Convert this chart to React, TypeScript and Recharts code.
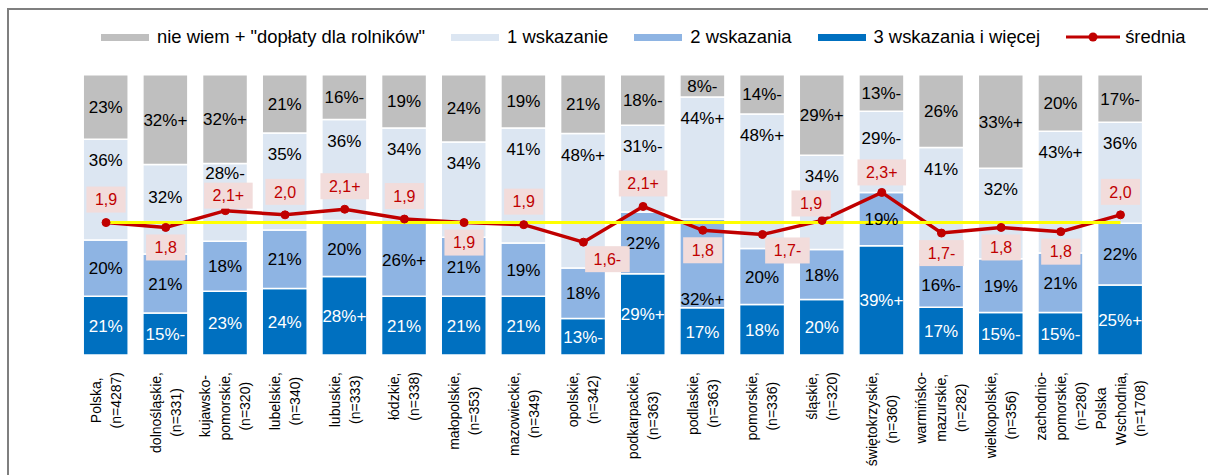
import React from 'react';
import { ComposedChart, Bar, Line, XAxis, YAxis, LabelList } from 'recharts';

const FONT = '"Liberation Sans", Arial, sans-serif';

const categories = [
  'Polska,\n(n=4287)',
  'dolnośląskie,\n(n=331)',
  'kujawsko-\npomorskie,\n(n=320)',
  'lubelskie,\n(n=340)',
  'lubuskie,\n(n=333)',
  'łódzkie,\n(n=338)',
  'małopolskie,\n(n=353)',
  'mazowieckie,\n(n=349)',
  'opolskie,\n(n=342)',
  'podkarpackie,\n(n=363)',
  'podlaskie,\n(n=363)',
  'pomorskie,\n(n=336)',
  'śląskie,\n(n=320)',
  'świętokrzyskie,\n(n=360)',
  'warmińsko-\nmazurskie,\n(n=282)',
  'wielkopolskie,\n(n=356)',
  'zachodnio-\npomorskie,\n(n=280)',
  'Polska\nWschodnia,\n(n=1708)',
];

const seriesNames = ['nie wiem + "dopłaty dla rolników"', '1 wskazanie', '2 wskazania', '3 wskazania i więcej', 'średnia'];

const threePlus = [21, 15, 23, 24, 28, 21, 21, 21, 13, 29, 17, 18, 20, 39, 17, 15, 15, 25];
const threePlusMarks = ['', '-', '', '', '+', '', '', '', '-', '+', '', '', '', '+', '', '-', '-', '+'];
const two = [20, 21, 18, 21, 20, 26, 21, 19, 18, 22, 32, 20, 18, 19, 16, 19, 21, 22];
const twoMarks = ['', '', '', '', '', '+', '', '', '', '', '+', '', '', '', '-', '', '', ''];
const one = [36, 32, 28, 35, 36, 34, 34, 41, 48, 31, 44, 48, 34, 29, 41, 32, 43, 36];
const oneMarks = ['', '', '-', '', '', '', '', '', '+', '-', '+', '+', '', '-', '', '', '+', ''];
const dontKnow = [23, 32, 32, 21, 16, 19, 24, 19, 21, 18, 8, 14, 29, 13, 26, 33, 20, 17];
const dontKnowMarks = ['', '+', '+', '', '-', '', '', '', '', '-', '-', '-', '+', '-', '', '+', '', '-'];
const average = [1.89, 1.82, 2.06, 2.0, 2.08, 1.94, 1.89, 1.86, 1.61, 2.12, 1.78, 1.72, 1.92, 2.32, 1.74, 1.82, 1.76, 2.0];
const averageMarks = ['', '', '+', '', '+', '', '', '', '-', '+', '', '-', '', '+', '-', '', '', ''];

const COLORS = {
  dontKnow: '#BFBFBF',
  one: '#DCE6F2',
  two: '#8EB4E3',
  three: '#0070C0',
  avg: '#C00000',
  base: '#FFFF00',
};

const data = categories.map((name, i) => {
  const sum = threePlus[i] + two[i] + one[i] + dontKnow[i];
  return {
    name,
    s3: (threePlus[i] / sum) * 100,
    s2: (two[i] / sum) * 100,
    s1: (one[i] / sum) * 100,
    s0: (dontKnow[i] / sum) * 100,
    avg: average[i],
    baseline: average[0],
  };
});

let measureCtx: CanvasRenderingContext2D | null = null;
const measure = (s: string, size: number) => {
  try {
    if (!measureCtx && typeof document !== 'undefined') {
      measureCtx = document.createElement('canvas').getContext('2d');
    }
    if (measureCtx) {
      measureCtx.font = `${size}px "Liberation Sans", Arial, sans-serif`;
      return measureCtx.measureText(s).width;
    }
  } catch (e) {
    /* ignore */
  }
  return s.length * size * 0.52;
};

type Placement = { fromTop?: number; fromBottom?: number };
const makeBarLabel = (
  values: number[],
  marks: string[],
  color: string,
  place: (i: number) => Placement | null
) => (props: any) => {
  const { x, y, width, height, index } = props;
  if (index == null || values[index] == null) return null;
  const p = place(index);
  let cy = Number(y) + Number(height) / 2;
  if (p && p.fromTop != null) cy = Number(y) + p.fromTop;
  if (p && p.fromBottom != null) cy = Number(y) + Number(height) - p.fromBottom;
  return (
    <text
      key={`bl-${index}`}
      x={Number(x) + Number(width) / 2}
      y={cy}
      dy="0.36em"
      textAnchor="middle"
      fill={color}
      fontSize={17}
      fontFamily={FONT}
    >
      {`${values[index]}%${marks[index]}`}
    </text>
  );
};

const oneLabelTop: Record<number, number> = { 1: 32, 2: 9, 13: 27 };
const placeOne = (i: number): Placement => ({ fromTop: oneLabelTop[i] ?? 21 });
const placeTwo = (i: number): Placement | null => (i === 10 ? { fromBottom: 9 } : null);
const placeCenter = () => null;

const belowLabels = new Set([1, 6, 8, 10, 11, 14, 15, 16]);
const labelNudge: Record<number, [number, number]> = {
  2: [3, -15],
  8: [24, 17],
  11: [25, 16],
  12: [-11, -17],
  13: [0, -20],
};

const renderAvgLabel = (props: any) => {
  const { x, y, index } = props;
  if (index == null) return null;
  const txt = average[index].toFixed(1).replace('.', ',') + averageMarks[index];
  const w = measure(txt, 16) + 17;
  const h = 26;
  const nudge = labelNudge[index];
  const dx = nudge ? nudge[0] : 0;
  const dy = nudge ? nudge[1] : belowLabels.has(index) ? 20 : -23;
  const cx = Number(x) + dx;
  const cy = Number(y) + dy;
  return (
    <g key={`al-${index}`}>
      <rect x={cx - w / 2} y={cy - h / 2} width={w} height={h} fill="#F2DCDB" />
      <text x={cx} y={cy} dy="0.36em" textAnchor="middle" fill={COLORS.avg} fontSize={16} fontFamily={FONT}>
        {txt}
      </text>
    </g>
  );
};

const renderTick = (props: any) => {
  const { x, y, payload, index } = props;
  const lines = String(payload.value).split('\n');
  const maxW = Math.max(...lines.map((l) => measure(l, 14)));
  const lh = 20;
  return (
    <g key={`t-${index}`} transform={`translate(${x},${Number(y) + 17}) rotate(-90)`}>
      {lines.map((l, i) => (
        <text
          key={i}
          x={-maxW / 2}
          y={(i - (lines.length - 1) / 2) * lh}
          dy="0.36em"
          textAnchor="middle"
          fill="#000"
          fontSize={14}
          fontFamily={FONT}
        >
          {l}
        </text>
      ))}
    </g>
  );
};

const legendItems = [
  { name: seriesNames[0], color: COLORS.dontKnow, type: 'rect' },
  { name: seriesNames[1], color: COLORS.one, type: 'rect' },
  { name: seriesNames[2], color: COLORS.two, type: 'rect' },
  { name: seriesNames[3], color: COLORS.three, type: 'rect' },
  { name: seriesNames[4], color: COLORS.avg, type: 'line' },
];

const LegendBox = () => (
  <div
    style={{
      position: 'absolute',
      left: 92,
      top: 16,
      display: 'flex',
      alignItems: 'center',
      gap: 26,
      fontFamily: FONT,
      fontSize: 18.4,
      lineHeight: '22px',
      color: '#000',
      whiteSpace: 'nowrap',
      zIndex: 2,
    }}
  >
    {legendItems.map((it) => (
      <div key={it.name} style={{ display: 'flex', alignItems: 'center' }}>
        {it.type === 'rect' ? (
          <div style={{ width: 48, height: 7, background: it.color, marginRight: 8 }} />
        ) : (
          <svg width={54} height={12} style={{ marginRight: 5 }}>
            <line x1={0} y1={6} x2={54} y2={6} stroke={it.color} strokeWidth={3} />
            <circle cx={27} cy={6} r={4.5} fill={it.color} />
          </svg>
        )}
        <span>{it.name}</span>
      </div>
    ))}
  </div>
);

const CHART_W = 1192;

export default function App() {
  return (
    <div
      style={{
        position: 'fixed',
        left: 7,
        top: 8,
        width: 1201,
        height: 467,
        overflow: 'hidden',
        boxSizing: 'border-box',
        borderLeft: '2px solid #7F7F7F',
        borderTop: '2px solid #7F7F7F',
        background: '#fff',
      }}
    >
      <LegendBox />
      <ComposedChart
        width={CHART_W}
        height={465}
        data={data}
        margin={{ top: 64.7, right: CHART_W - 1141.3, left: 67.2, bottom: 0 }}
      >
        <XAxis
          dataKey="name"
          interval={0}
          axisLine={false}
          tickLine={false}
          tickSize={0}
          tickMargin={0}
          height={120}
          tick={renderTick}
        />
        <YAxis yAxisId="pct" hide domain={[0, 100]} />
        <YAxis yAxisId="avg" orientation="right" hide domain={[0, 4]} />
        <Bar dataKey="s3" stackId="a" yAxisId="pct" fill={COLORS.three} stroke="#fff" strokeWidth={1.5} barSize={45} isAnimationActive={false} name={seriesNames[3]}>
          <LabelList dataKey="s3" content={makeBarLabel(threePlus, threePlusMarks, '#fff', placeCenter)} />
        </Bar>
        <Bar dataKey="s2" stackId="a" yAxisId="pct" fill={COLORS.two} stroke="#fff" strokeWidth={1.5} barSize={45} isAnimationActive={false} name={seriesNames[2]}>
          <LabelList dataKey="s2" content={makeBarLabel(two, twoMarks, '#000', placeTwo)} />
        </Bar>
        <Bar dataKey="s1" stackId="a" yAxisId="pct" fill={COLORS.one} stroke="#fff" strokeWidth={1.5} barSize={45} isAnimationActive={false} name={seriesNames[1]}>
          <LabelList dataKey="s1" content={makeBarLabel(one, oneMarks, '#000', placeOne)} />
        </Bar>
        <Bar dataKey="s0" stackId="a" yAxisId="pct" fill={COLORS.dontKnow} stroke="#fff" strokeWidth={1.5} barSize={45} isAnimationActive={false} name={seriesNames[0]}>
          <LabelList dataKey="s0" content={makeBarLabel(dontKnow, dontKnowMarks, '#000', placeCenter)} />
        </Bar>
        <Line
          dataKey="avg"
          yAxisId="avg"
          stroke={COLORS.avg}
          strokeWidth={3.5}
          dot={{ r: 4, fill: COLORS.avg, stroke: COLORS.avg, strokeWidth: 1 }}
          activeDot={false}
          isAnimationActive={false}
          name={seriesNames[4]}
        />
        <Line
          dataKey="baseline"
          yAxisId="avg"
          stroke={COLORS.base}
          strokeWidth={3}
          dot={false}
          activeDot={false}
          isAnimationActive={false}
          legendType="none"
        />
        <Line
          dataKey="avg"
          yAxisId="avg"
          stroke="none"
          dot={false}
          activeDot={false}
          isAnimationActive={false}
          legendType="none"
        >
          <LabelList dataKey="avg" content={renderAvgLabel} />
        </Line>
      </ComposedChart>
    </div>
  );
}
